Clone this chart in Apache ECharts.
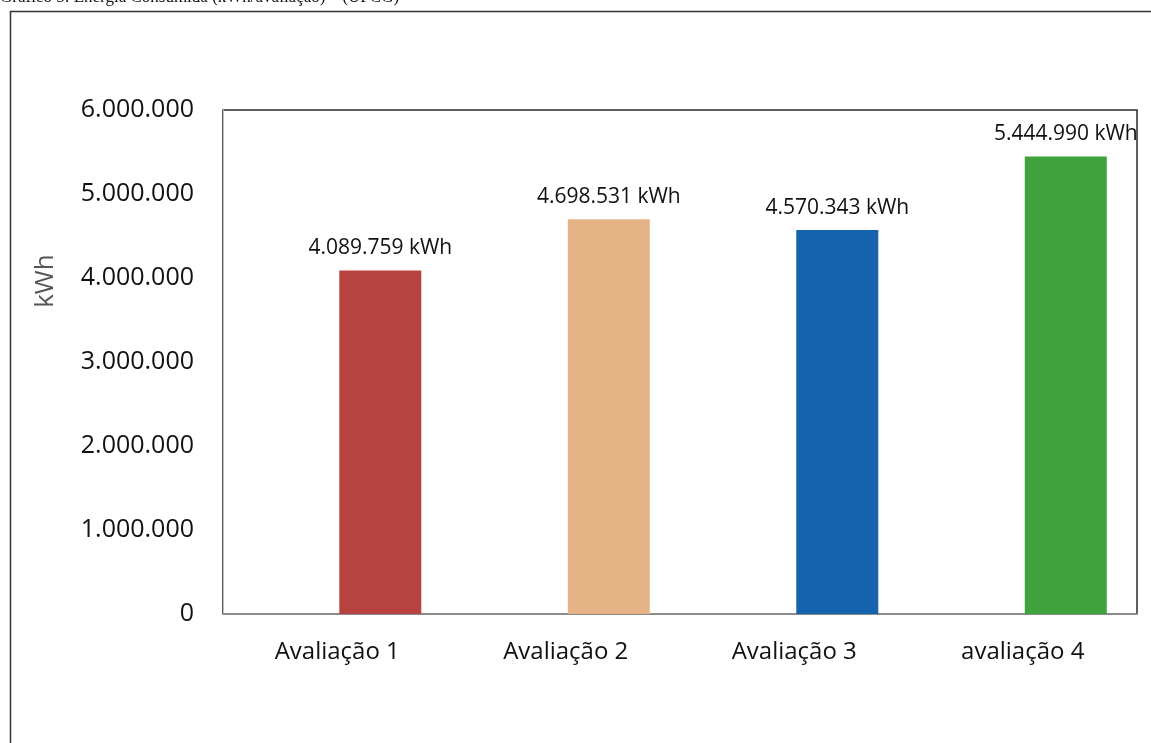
<!DOCTYPE html>
<html>
<head>
<meta charset="utf-8">
<title>Energia Consumida (kWh/avaliação)</title>
<script src="https://cdn.jsdelivr.net/npm/echarts@6/dist/echarts.min.js"></script>
<style>
  html, body { margin: 0; padding: 0; background: #fff; }
  #chart { width: 1151px; height: 743px; }
</style>
</head>
<body>
<div id="chart"></div>
<script>
// Energy consumed per evaluation round (kWh)
const categories = ['Avaliação 1', 'Avaliação 2', 'Avaliação 3', 'avaliação 4'];
const consumoKWh = [4089759, 4698531, 4570343, 5444990];
const yMin = 0;
const yMax = 6000000;
const yStep = 1000000;

const barPalette = ['#b8423f', '#e6b387', '#1563ad', '#3ea33d'];

function pontos(v) {
  return String(Math.round(v)).replace(/\B(?=(\d{3})+(?!\d))/g, '.');
}

const chart = echarts.init(document.getElementById('chart'), null, { renderer: 'canvas' });

chart.setOption({
  backgroundColor: '#ffffff',
  animation: false,
  grid: {
    left: 223, top: 110, width: 914, height: 504,
    show: true, borderColor: '#2a2a2a', borderWidth: 1.5, backgroundColor: 'transparent'
  },
  xAxis: {
    type: 'category',
    data: categories,
    axisTick: { show: false },
    axisLine: { lineStyle: { color: '#9a9a9a', width: 1.5 } },
    axisLabel: {
      margin: 26, color: '#111', fontSize: 24, fontFamily: 'Open Sans'
    }
  },
  yAxis: {
    type: 'value',
    min: yMin, max: yMax, interval: yStep,
    splitLine: { show: false },
    axisTick: { show: false },
    axisLine: { show: true, lineStyle: { color: '#bdbdbd', width: 1 } },
    axisLabel: {
      margin: 29, color: '#111', fontSize: 25, fontFamily: 'Open Sans',
      formatter: v => pontos(v)
    }
  },
  series: [
    {
      // empty companion series: reserves the left slot so bars sit right of centre
      type: 'bar', name: 'reserva', data: [], barWidth: 82, barGap: '5%'
    },
    {
      type: 'bar',
      name: 'Energia consumida',
      data: consumoKWh.map((v, i) => ({ value: v, itemStyle: { color: barPalette[i] } })),
      barWidth: 82,
      barGap: '5%',
      label: {
        show: true, position: 'top', distance: 12,
        color: '#111', fontSize: 21, fontFamily: 'Open Sans',
        formatter: p => pontos(p.value) + ' kWh'
      }
    }
  ],
  graphic: [
    {
      type: 'text', left: 0, top: -11, silent: true,
      style: {
        text: 'Gráfico 5: Energia Consumida (kWh/avaliação) – (UFCG)',
        font: '17px "Liberation Serif"', fill: '#111'
      }
    },
    {
      type: 'polyline', silent: true,
      shape: { points: [[10.5, 743], [10.5, 11.5], [1151, 11.5]] },
      style: { stroke: '#333', lineWidth: 1.5, fill: null }
    },
    {
      type: 'text', silent: true,
      x: 46, y: 281, rotation: Math.PI / 2,
      style: {
        text: 'kWh', font: '26px "Open Sans"', fill: '#555',
        align: 'center', verticalAlign: 'middle'
      }
    }
  ]
});
</script>
</body>
</html>
